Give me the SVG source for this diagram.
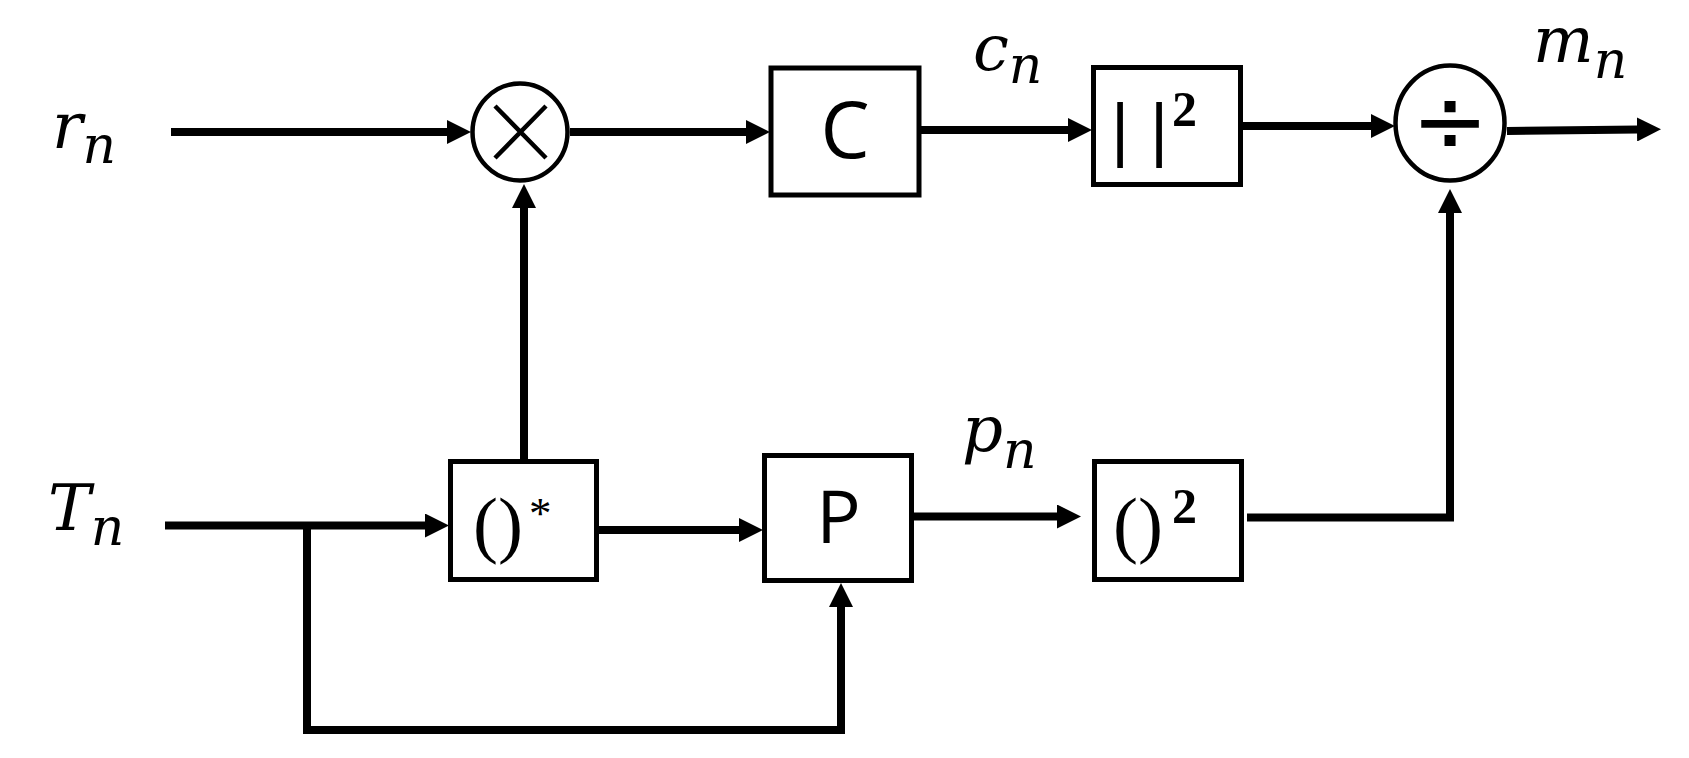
<svg xmlns="http://www.w3.org/2000/svg" width="1689" height="758" viewBox="0 0 1689 758">
<style>
.box{fill:#fff;stroke:#000;stroke-width:5}
.op{fill:#fff;stroke:#000;stroke-width:4.5}
.wire{fill:none;stroke:#000;stroke-width:8;stroke-linejoin:miter;stroke-linecap:butt}
.math{font-family:"DejaVu Serif",serif;font-style:italic;fill:#000;font-size:64px}
.sub{font-size:52px}
.lbl{font-family:"Open Sans","Liberation Sans",sans-serif;fill:#000}
.ser{font-family:"Liberation Serif",serif;fill:#000}
</style>
<defs>
<marker id="arr" markerUnits="userSpaceOnUse" markerWidth="24" markerHeight="24" refX="1" refY="12" orient="auto" viewBox="0 0 24 24">
<path d="M0,0 L24,12 L0,24 z" fill="#000"/>
</marker>
</defs>
<rect width="1689" height="758" fill="#fff"/>
<g id="connectors">
<path class="wire" d="M171,132 H448" marker-end="url(#arr)"/>
<path class="wire" d="M570,132 H747" marker-end="url(#arr)"/>
<path class="wire" d="M921,130 H1069" marker-end="url(#arr)"/>
<path class="wire" d="M1243,126 H1372" marker-end="url(#arr)"/>
<path class="wire" d="M1507,131 L1638,129.5" marker-end="url(#arr)"/>
<path class="wire" d="M524,459 V207" marker-end="url(#arr)"/>
<path class="wire" d="M165,525.5 H426" marker-end="url(#arr)"/>
<path class="wire" d="M599,530 H740" marker-end="url(#arr)"/>
<path class="wire" d="M307,525.5 V730 H841 V606" marker-end="url(#arr)"/>
<path class="wire" d="M914,516.5 H1058" marker-end="url(#arr)"/>
<path class="wire" d="M1247,517.5 H1450 V212" marker-end="url(#arr)"/>
</g>
<g id="label-rn"><text class="math" x="52" y="148">r<tspan class="sub" dy="15">n</tspan></text></g>
<g id="label-Tn"><text class="math" x="48" y="530">T<tspan class="sub" dy="15">n</tspan></text></g>
<g id="label-cn"><text class="math" x="973" y="70">c<tspan class="sub" dy="13">n</tspan></text></g>
<g id="label-mn"><text class="math" x="1533" y="62">m<tspan class="sub" dy="16">n</tspan></text></g>
<g id="label-pn"><text class="math" x="962" y="451">p<tspan class="sub" dy="17">n</tspan></text></g>
<g id="mult">
<ellipse class="op" cx="520" cy="132" rx="47.5" ry="48.5"/>
<path d="M495,106 L546,158 M546,106 L495,158" stroke="#000" stroke-width="4.5" fill="none"/>
</g>
<g id="div">
<ellipse class="op" cx="1450" cy="123" rx="54.5" ry="57.5"/>
<text x="1450" y="153" font-family="DejaVu Sans" font-size="92" text-anchor="middle">÷</text>
</g>
<g id="block-C">
<rect class="box" x="771" y="68" width="148" height="127"/>
<text class="lbl" x="845" y="158" font-size="78" text-anchor="middle">C</text>
</g>
<g id="block-abs2">
<rect class="box" x="1093.5" y="67.5" width="147" height="117"/>
<text font-family="Liberation Sans" font-size="70"><tspan x="1120" y="153" text-anchor="middle">|</tspan><tspan x="1159" y="153" text-anchor="middle">|</tspan></text>
<text class="ser" x="1172" y="126" font-size="50" font-weight="bold">2</text>
</g>
<g id="block-conj">
<rect class="box" x="450.5" y="461.5" width="146" height="118"/>
<text class="ser" x="473" y="549" font-size="75">()</text>
<text class="ser" x="529" y="528" font-size="45">*</text>
</g>
<g id="block-P">
<rect class="box" x="764.5" y="455.5" width="147" height="125"/>
<text class="lbl" x="838.5" y="543" font-size="74" text-anchor="middle">P</text>
</g>
<g id="block-sq">
<rect class="box" x="1094.5" y="461.5" width="147" height="118"/>
<text class="ser" x="1113" y="549" font-size="75">()</text>
<text class="ser" x="1172" y="523" font-size="50" font-weight="bold">2</text>
</g>
</svg>
